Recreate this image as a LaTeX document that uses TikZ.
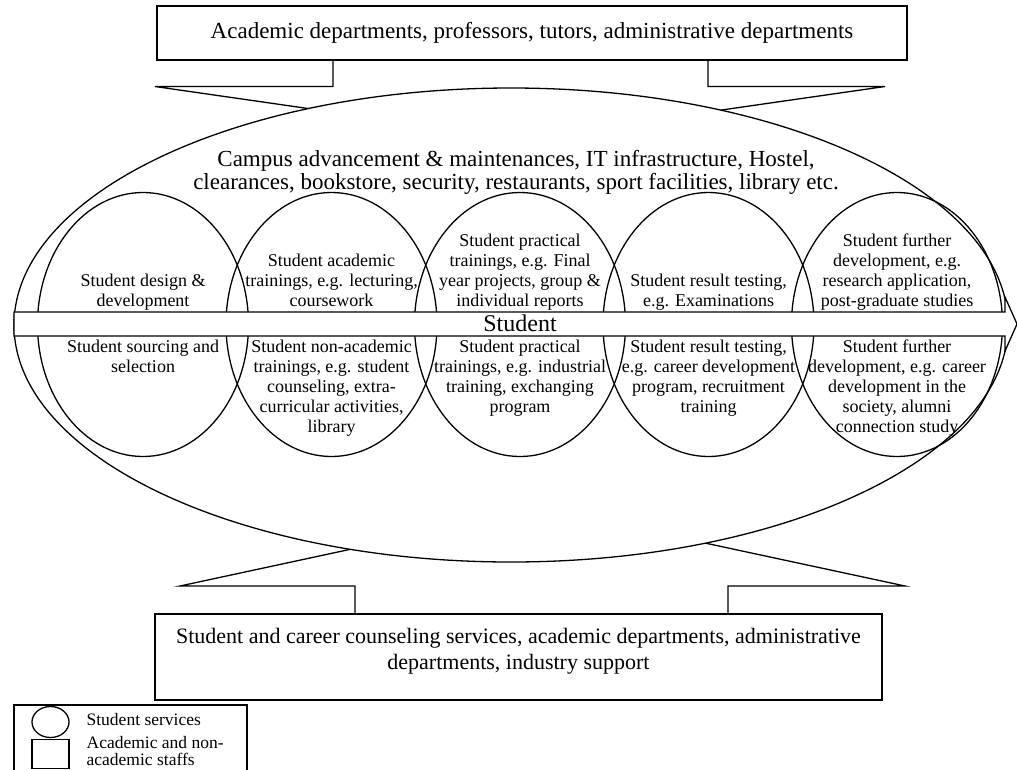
\documentclass[tikz,border=0pt]{standalone}
\usepackage{fontspec}
\setmainfont{Liberation Serif}
\usetikzlibrary{shapes.geometric,positioning}

\begin{document}
\begin{tikzpicture}[x=1pt, y=-1pt, line width=1.3pt,
	service/.style={draw, ellipse, minimum width=211pt, minimum height=264pt, inner sep=0pt},
	staff box/.style={draw, fill=white, rectangle, inner sep=0pt, align=center},
	service text/.style={align=center, inner sep=0pt, font=\fontsize{18}{20}\selectfont},
	key text/.style={align=left, anchor=west, inner sep=0pt, font=\fontsize{17.5}{17}\selectfont}]
	
	\useasboundingbox (0,0) rectangle (1017,769);
	
	% staffs on top and bottom
	\node [staff box, minimum width=750pt, minimum height=54pt, font=\fontsize{23}{26}\selectfont]
	(staff-top) at (532,33) {Academic departments, professors, tutors, administrative departments};
	\node [staff box, minimum width=727pt, minimum height=86pt] (staff-bottom) at (518.5,657) {};
	\node [align=center, inner sep=0pt, font=\fontsize{22}{26}\selectfont] (staff-bottom-text) at (518.5,651)
	{Student and career counseling services, academic departments, administrative\\departments, industry support};
	
	% block arrows, partly hidden by the campus
	\draw (333,60) -- (333,86.5) -- (155,86.5) -- (520,139) -- (885,86.5) -- (708,86.5) -- (708,60);
	\draw (355,614) -- (355,586) -- (180,586) -- (542,508) -- (905,586) -- (728,586) -- (728,614);
	
	\node [draw, fill=white, ellipse, minimum width=994pt, minimum height=474pt, inner sep=0pt] (campus) at (511,325) {};
	\node [align=center, inner sep=0pt, font=\fontsize{23}{23}\selectfont] (campus-text) at (516,172)
	{Campus advancement \& maintenances, IT infrastructure, Hostel,\\clearances, bookstore, security, restaurants, sport facilities, library etc.};
	
	\foreach \m [count=\i] in {143,331.5,520,708.5,897}
	\node [service] (svc-\i) at (\m,324.5) {};
	
	% the student flow
	\draw [fill=white] (14,312) -- (1005,312) -- (1005,297) -- (1017,324) -- (1005,351) -- (1005,336) -- (14,336) -- cycle;
	\node [inner sep=0pt, font=\fontsize{24}{24}\selectfont] (student) at (520,323) {Student};
	
	\foreach \t [count=\i] in {{Student design \&\\development\strut},
		{Student academic\\trainings, e.g. lecturing,\\coursework\strut},
		{Student practical\\trainings, e.g. Final\\year projects, group \&\\individual reports\strut},
		{Student result testing,\\e.g. Examinations\strut},
		{Student further\\development, e.g.\\research application,\\post-graduate studies\strut}}
	\node [service text, anchor=south] (up-\i) at (svc-\i |- 0,313) {\t};
	
	\foreach \t [count=\i] in {{\strut Student sourcing and\\selection},
		{\strut Student non-academic\\trainings, e.g. student\\counseling, extra-\\curricular activities,\\library},
		{\strut Student practical\\trainings, e.g. industrial\\training, exchanging\\program},
		{\strut Student result testing,\\e.g. career development\\program, recruitment\\training},
		{\strut Student further\\development, e.g. career\\development in the\\society, alumni\\connection study}}
	\node [service text, anchor=north] (down-\i) at (svc-\i |- 0,338) {\t};
	
	% key
	\draw (14,705) rectangle (247,800);
	\node [draw, ellipse, minimum width=37pt, minimum height=31pt, inner sep=0pt] (key-svc) at (50.5,722) {};
	\node [draw, minimum width=37pt, minimum height=29pt, inner sep=0pt] (key-staff) at (50.5,754) {};
	\node [key text] (key-svc-text) at (86,720) {Student services};
	\node [key text] (key-staff-text) at (86,751) {Academic and non-\\academic staffs};
	
\end{tikzpicture}
\end{document}
